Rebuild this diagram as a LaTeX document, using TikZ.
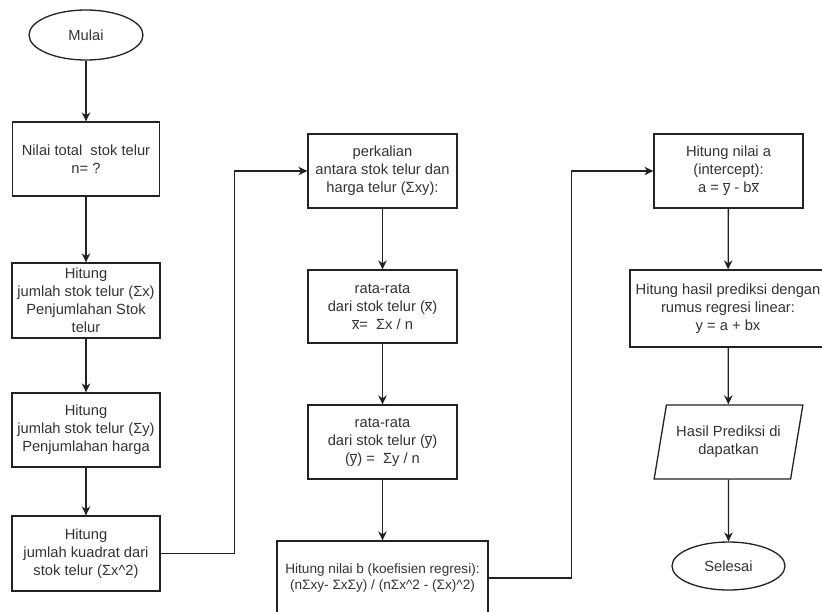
\documentclass[tikz,border=0pt]{standalone}
\usepackage{fontspec}
\setmainfont{Liberation Sans}
\usepackage{xcolor}
\definecolor{flowLine}{HTML}{222222}
\definecolor{flowText}{HTML}{333333}
\usetikzlibrary{shapes.geometric,arrows.meta}
\newcommand{\ovx}{\ensuremath{\overline{\mbox{x}}}}
\newcommand{\ovy}{\ensuremath{\overline{\mbox{y}}}}

\begin{document}
\begin{tikzpicture}[x=1pt, y=-1pt,
  proses/.style={rectangle, draw=flowLine, line width=1.3pt, align=center, text=flowText,
    inner sep=2pt, font=\fontsize{14.7}{18}\selectfont},
  terminal/.style={ellipse, draw=flowLine, line width=1.3pt, text=flowText,
    inner sep=0pt, font=\fontsize{14.7}{18}\selectfont},
  flow/.style={flowLine, line width=1.3pt, -{Stealth[length=9pt, width=8.5pt]}}]
  \useasboundingbox (0,0) rectangle (822,611);
  \clip (0,0) rectangle (822,611);
  \fill[white] (0,0) rectangle (822,611);
  % kolom kiri
  \node[terminal, minimum width=114, minimum height=50] (mulai) at (86,35) {Mulai};
  \node[proses, minimum width=147, minimum height=74] (nilai) at (86,159) {Nilai total~ stok telur\\n= ?};
  \node[proses, minimum width=148, minimum height=75] (sumx) at (86,300.5) {Hitung\\jumlah stok telur (Σx)\\Penjumlahan Stok\\telur};
  \node[proses, minimum width=148, minimum height=74] (sumy) at (86,430) {Hitung\\jumlah stok telur (Σy)\\Penjumlahan harga};
  \node[proses, minimum width=148, minimum height=75] (sumxx) at (86,553.5) {Hitung\\jumlah kuadrat dari\\stok telur (Σx\textasciicircum 2)};
  % kolom tengah
  \node[proses, minimum width=149, minimum height=74] (sumxy) at (382.5,171) {perkalian\\antara stok telur dan\\harga telur (Σxy):};
  \node[proses, minimum width=149, minimum height=73] (ratax) at (382.5,306.5) {rata-rata\\dari stok telur (\ovx)\\\ovx=~ Σx / n};
  \node[proses, minimum width=149, minimum height=74] (ratay) at (382.5,442) {rata-rata\\dari stok telur (\ovy)\\(\ovy) =~ Σy / n};
  \node[proses, minimum width=211, minimum height=74, font=\fontsize{13.6}{16}\selectfont] (nilaib) at (382.5,578) {Hitung nilai b (koefisien regresi):\\(nΣxy- ΣxΣy) / (nΣx\textasciicircum 2 - (Σx)\textasciicircum 2)};
  % kolom kanan
  \node[proses, minimum width=149, minimum height=74] (nilaia) at (728.5,171) {Hitung nilai a\\(intercept):\\a = \ovy{} - b\ovx};
  \node[proses, minimum width=196, minimum height=77] (prediksi) at (728,308.5) {Hitung hasil prediksi dengan\\rumus regresi linear:\\y = a + bx};
  \node[trapezium, draw=flowLine, line width=1.3pt, align=center, text=flowText,
    font=\fontsize{14.7}{18}\selectfont, trapezium left angle=74, trapezium right angle=106,
    trapezium stretches=true, minimum width=149, minimum height=74] (hasil) at (728.5,442) {Hasil Prediksi di\\dapatkan};
  \node[terminal, minimum width=113, minimum height=48] (selesai) at (728.5,566) {Selesai};
  % panah
  \draw[flow] (mulai) -- (nilai);
  \draw[flow] (nilai) -- (sumx);
  \draw[flow] (sumx) -- (sumy);
  \draw[flow] (sumy) -- (sumxx);
  \draw[flow] (sumxx.east) -- ++(74,0) |- (sumxy.west);
  \draw[flow] (sumxy) -- (ratax);
  \draw[flow] (ratax) -- (ratay);
  \draw[flow] (ratay) -- (nilaib);
  \draw[flow] (nilaib.east) -- ++(83,0) |- (nilaia.west);
  \draw[flow] (nilaia) -- (prediksi);
  \draw[flow] (prediksi) -- (hasil);
  \draw[flow] (hasil) -- (selesai);
\end{tikzpicture}
\end{document}
